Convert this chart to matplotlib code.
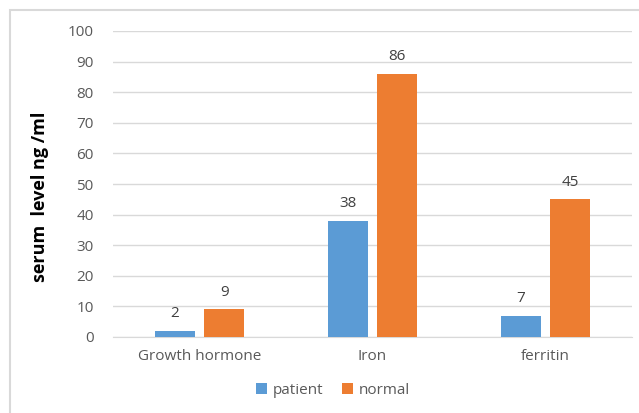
import matplotlib.pyplot as plt
import numpy as np
from matplotlib.patches import Rectangle

categories = ["Growth hormone", "Iron", "ferritin"]
patient = [2, 38, 7]
normal = [9, 86, 45]
series_names = ["patient", "normal"]
colors = ["#5B9BD5", "#ED7D31"]

plt.rcParams["font.family"] = ["Open Sans", "DejaVu Sans"]

W, H = 639, 413
fig = plt.figure(figsize=(W / 100, H / 100), dpi=100)
ax = fig.add_axes([113 / W, 1 - 337 / H, 519 / W, 306 / H])

x = np.arange(len(categories))
width = 0.23
gap = 0.055
offsets = [-(width + gap) / 2, (width + gap) / 2]

for vals, off, col, name in zip([patient, normal], offsets, colors, series_names):
    bars = ax.bar(x + off, vals, width, color=col, label=name, zorder=3)
    for b, v in zip(bars, vals):
        ax.annotate(f"{v}", (b.get_x() + b.get_width() / 2, v),
                    xytext=(0, 7), textcoords="offset points",
                    ha="center", va="bottom", fontsize=11, color="#404040")

ax.set_xlim(-0.5, len(categories) - 0.5)
ax.set_ylim(0, 100)
ax.set_yticks(range(0, 101, 10))
ax.set_xticks(x)
ax.set_xticklabels(categories)
ax.tick_params(axis="both", length=0, labelsize=11, labelcolor="#595959")
ax.tick_params(axis="y", pad=14)
ax.tick_params(axis="x", pad=9)
ax.grid(axis="y", color="#d9d9d9", linewidth=1, zorder=0)
for s in ["top", "right", "left"]:
    ax.spines[s].set_visible(False)
ax.spines["bottom"].set_color("#d9d9d9")

ax.set_ylabel("serum  level ng /ml", fontsize=13, fontweight="bold", color="black")
ax.yaxis.set_label_coords(-0.123, 0.458)

ax.legend(loc="center", bbox_to_anchor=(333 / W, 1 - 390 / H),
          bbox_transform=fig.transFigure, ncol=2, frameon=False, fontsize=11,
          handlelength=0.7, handleheight=0.7, handletextpad=0.4, columnspacing=1.2,
          labelcolor="#595959")

# outer chart border
fig.patches.append(Rectangle((10 / W, -0.1), 1.2, 1 - 10 / H + 0.1,
                             transform=fig.transFigure, fill=False,
                             edgecolor="#d9d9d9", linewidth=1.5))

fig.savefig("out.png", dpi=100)
